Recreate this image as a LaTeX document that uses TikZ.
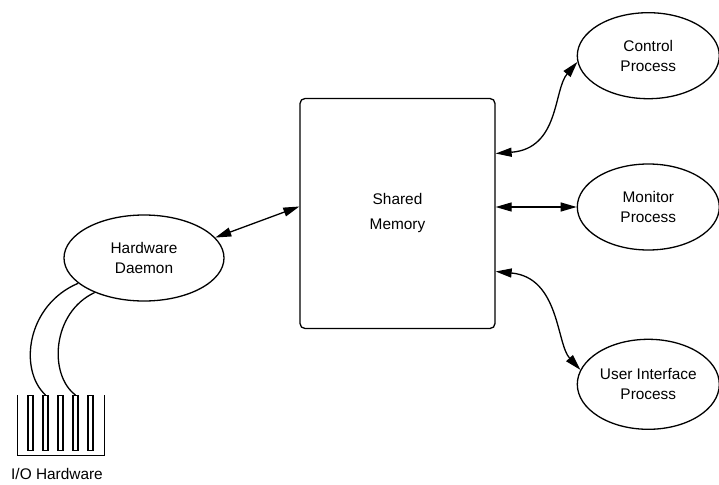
\documentclass[tikz,border=0pt]{standalone}
\usepackage{fontspec}
\setmainfont{Liberation Sans}
\usetikzlibrary{arrows.meta,positioning,shapes.geometric}

\begin{document}
\begin{tikzpicture}[
    x=1pt, y=-1pt,
    line width=1.3pt,
    >={Triangle[length=16pt,width=9pt]},
    proc/.style={draw, ellipse, align=center, inner sep=0pt, minimum width=142pt, minimum height=86pt, font=\fontsize{15.4}{20}\selectfont},
    store/.style={draw, rounded corners=5pt, align=center, minimum width=195pt, minimum height=230pt, font=\fontsize{15.4}{25}\selectfont},
    slot/.style={draw, line width=1.1pt, inner sep=0pt, minimum width=5pt, minimum height=55pt, anchor=north},
    node distance=10mm
  ]
    \useasboundingbox (0,0) rectangle (719,484);
    \node[store] (mem) at (397.5,213.5) {Shared\\Memory};
    \node[proc, minimum width=160pt, minimum height=86pt] (daemon) at (144,258) {Hardware\\Daemon};
    \node[proc, right=81pt of mem, yshift=6.5pt] (monitor) {Monitor\\Process};
    \node[proc, above=64pt of monitor] (control) {Control\\Process};
    \node[proc, below=88pt of monitor, minimum height=90pt] (ui) {User Interface\\Process};

    % I/O card with its contacts
    \draw[line width=1pt] (17,395) |- (104,455) -- (104,395);
    \foreach \i in {1,...,5}
      \node[slot] (slot\i) at (15.5+15*\i,395) {};
    \node[font=\fontsize{15.4}{20}\selectfont] (io) at (57,474) {I/O Hardware};

    \draw[<->] (daemon.16) -- ([yshift=7pt]mem.west);
    \draw[<->] ([yshift=60pt]mem.east) .. controls +(64,-5) and +(-24,28) .. (control.185);
    \draw[<->] (mem.east |- monitor.west) -- (monitor.west);
    \draw[<->] ([yshift=-58pt]mem.east) .. controls +(64,6) and +(-24,-26) .. (ui.168);

    % cables down to the card
    \draw (daemon.201) .. controls +(-52,22) and +(-27,-25) .. (slot2.north);
    \draw (daemon.215) .. controls +(-43,20) and +(-27,-20) .. (slot4.north);
  \end{tikzpicture}
\end{document}
